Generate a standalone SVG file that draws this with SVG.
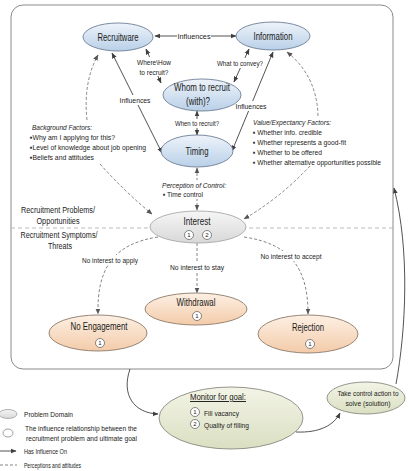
<svg xmlns="http://www.w3.org/2000/svg" width="409" height="471" viewBox="0 0 409 471">
<defs>
<linearGradient id="gBlue" x1="0" y1="0" x2="0" y2="1"><stop offset="0" stop-color="#eef3fa"/><stop offset="1" stop-color="#b9d0e8"/></linearGradient>
<linearGradient id="gGray" x1="0" y1="0" x2="0" y2="1"><stop offset="0" stop-color="#f6f6f6"/><stop offset="1" stop-color="#d8d8d8"/></linearGradient>
<linearGradient id="gPeach" x1="0" y1="0" x2="0" y2="1"><stop offset="0" stop-color="#fdf0e4"/><stop offset="1" stop-color="#f3cba9"/></linearGradient>
<linearGradient id="gGreen" x1="0" y1="0" x2="0" y2="1"><stop offset="0" stop-color="#f3f4e6"/><stop offset="1" stop-color="#dadfc2"/></linearGradient>
<marker id="ah" viewBox="0 0 10 10" refX="9" refY="5" markerWidth="6" markerHeight="6" markerUnits="userSpaceOnUse" orient="auto-start-reverse"><path d="M0,1 L10,5 L0,9 Z" fill="#404040"/></marker>
<marker id="ahd" viewBox="0 0 10 10" refX="9" refY="5" markerWidth="6" markerHeight="6" markerUnits="userSpaceOnUse" orient="auto-start-reverse"><path d="M0,1 L10,5 L0,9 Z" fill="#555"/></marker>
<style>
text{font-family:"Liberation Sans",Arial,sans-serif;fill:#1a1a1a}
.n{font-size:10px;text-anchor:middle}
.l{font-size:8px}
.lc{font-size:8px;text-anchor:middle}
.it{font-style:italic}
.sol{fill:none;stroke:#404040;stroke-width:0.9}
.das{fill:none;stroke:#666;stroke-width:0.8;stroke-dasharray:3,2}
.blue{fill:url(#gBlue);stroke:#6d7f95;stroke-width:0.9}
.gray{fill:url(#gGray);stroke:#a8a8a8;stroke-width:0.9}
.peach{fill:url(#gPeach);stroke:#8c7a6a;stroke-width:0.9}
.green{fill:url(#gGreen);stroke:#8a8a80;stroke-width:0.9}
.num{fill:#fff;stroke:#555;stroke-width:0.7}
.nt{font-size:6px;text-anchor:middle}
.bg{fill:#fff}
</style>
</defs>

<rect x="11" y="5" width="382" height="364" rx="12" fill="#fff" stroke="#8a8a8a" stroke-width="1"/>
<line x1="11" y1="228" x2="393" y2="228" stroke="#aaa" stroke-width="0.8" stroke-dasharray="4,3"/>

<g id="connectors">
<line class="sol" x1="155" y1="36" x2="236" y2="36" marker-start="url(#ah)" marker-end="url(#ah)"/>
<line class="sol" x1="146" y1="49" x2="161" y2="83" marker-start="url(#ah)" marker-end="url(#ah)"/>
<line class="sol" x1="249" y1="49" x2="234" y2="82" marker-start="url(#ah)" marker-end="url(#ah)"/>
<line class="sol" x1="112" y1="53" x2="162" y2="153" marker-start="url(#ah)" marker-end="url(#ah)"/>
<line class="sol" x1="232" y1="151" x2="273" y2="52" marker-start="url(#ah)" marker-end="url(#ah)"/>
<line class="sol" x1="197" y1="111" x2="197" y2="135" marker-start="url(#ah)" marker-end="url(#ah)"/>
<line class="das" x1="197" y1="168" x2="197" y2="210" marker-start="url(#ahd)" marker-end="url(#ahd)"/>
<path class="das" d="M87,120 Q83,82 98,55" marker-end="url(#ahd)"/>
<path class="das" d="M100,164 Q125,192 152,214" marker-end="url(#ahd)"/>
<path class="das" d="M318,116 Q317,76 287,52" marker-end="url(#ahd)"/>
<path class="das" d="M310,166 Q280,198 244,219" marker-end="url(#ahd)"/>
<path class="das" d="M158,237 C112,244 97,270 98,314" marker-end="url(#ahd)"/>
<line class="das" x1="197" y1="243" x2="197" y2="293" marker-end="url(#ahd)"/>
<path class="das" d="M244,237 C292,244 308,270 308,314" marker-end="url(#ahd)"/>
<path class="sol" d="M130,369 C121,395 134,413 158,414" marker-end="url(#ah)"/>
<path class="sol" d="M296,432 C320,433 334,425 340,413" marker-end="url(#ah)"/>
<path class="sol" d="M396,384 C406,330 410,250 394,188" marker-end="url(#ah)"/>
</g>

<g id="labels">
<rect class="bg" x="177" y="31" width="34" height="10"/>
<text class="lc" x="194" y="39" textLength="33" lengthAdjust="spacingAndGlyphs">Influences</text>
<rect class="bg" x="137" y="57" width="34" height="19"/>
<text class="lc" x="154" y="65" textLength="34" lengthAdjust="spacingAndGlyphs">Where\How</text>
<text class="lc" x="154" y="75" textLength="29" lengthAdjust="spacingAndGlyphs">to recruit?</text>
<rect class="bg" x="216" y="58" width="48" height="10"/>
<text class="lc" x="240" y="66" textLength="46" lengthAdjust="spacingAndGlyphs">What to convey?</text>
<rect class="bg" x="119" y="95" width="32" height="10"/>
<text class="lc" x="135" y="103" textLength="31" lengthAdjust="spacingAndGlyphs">Influences</text>
<rect class="bg" x="235" y="101" width="32" height="10"/>
<text class="lc" x="251" y="109" textLength="31" lengthAdjust="spacingAndGlyphs">Influences</text>
<rect class="bg" x="174" y="119" width="46" height="9"/>
<text x="197" y="126" style="font-size:7px;text-anchor:middle" textLength="44" lengthAdjust="spacingAndGlyphs">When to recruit?</text>
<rect class="bg" x="161" y="180" width="66" height="19"/>
<text class="l it" x="162" y="188" textLength="64" lengthAdjust="spacingAndGlyphs">Perception of Control:</text>
<text class="l" x="163" y="197" textLength="40" lengthAdjust="spacingAndGlyphs">▪ Time control</text>
<text class="l it" x="32" y="130" textLength="60" lengthAdjust="spacingAndGlyphs">Background Factors:</text>
<text class="l" x="30" y="140" textLength="85" lengthAdjust="spacingAndGlyphs">▪Why am I applying for this?</text>
<text class="l" x="30" y="150" textLength="116" lengthAdjust="spacingAndGlyphs">▪Level of knowledge about job opening</text>
<text class="l" x="30" y="160" textLength="64" lengthAdjust="spacingAndGlyphs">▪Beliefs and attitudes</text>
<text class="l it" x="253" y="125" textLength="78" lengthAdjust="spacingAndGlyphs">Value/Expectancy Factors:</text>
<text class="l" x="253" y="135" textLength="69" lengthAdjust="spacingAndGlyphs">▪ Whether info. credible</text>
<text class="l" x="253" y="145" textLength="93" lengthAdjust="spacingAndGlyphs">▪ Whether represents a good-fit</text>
<text class="l" x="253" y="155" textLength="69" lengthAdjust="spacingAndGlyphs">▪ Whether to be offered</text>
<text class="l" x="253" y="165" textLength="128" lengthAdjust="spacingAndGlyphs">▪ Whether alternative opportunities possible</text>
<text class="lc" x="58" y="213" style="font-size:8.5px" textLength="74" lengthAdjust="spacingAndGlyphs">Recruitment Problems/</text>
<text class="lc" x="58" y="224" style="font-size:8.5px" textLength="43" lengthAdjust="spacingAndGlyphs">Opportunities</text>
<text class="lc" x="59" y="238" style="font-size:8.5px" textLength="77" lengthAdjust="spacingAndGlyphs">Recruitment Symptoms/</text>
<text class="lc" x="60" y="249" style="font-size:8.5px" textLength="24" lengthAdjust="spacingAndGlyphs">Threats</text>
<rect class="bg" x="81" y="255" width="58" height="10"/>
<text class="lc" x="110" y="263" textLength="56" lengthAdjust="spacingAndGlyphs">No interest to apply</text>
<rect class="bg" x="169" y="262" width="56" height="10"/>
<text class="lc" x="197" y="270" textLength="54" lengthAdjust="spacingAndGlyphs">No interest to stay</text>
<rect class="bg" x="260" y="251" width="63" height="10"/>
<text class="lc" x="291" y="259" textLength="61" lengthAdjust="spacingAndGlyphs">No interest to accept</text>
</g>

<g id="recruitware">
<ellipse class="blue" cx="118" cy="37" rx="35" ry="14"/>
<text class="n" x="118" y="41" textLength="41" lengthAdjust="spacingAndGlyphs">Recruitware</text>
</g>
<g id="information">
<ellipse class="blue" cx="273" cy="36" rx="37" ry="14"/>
<text class="n" x="273" y="40" textLength="39" lengthAdjust="spacingAndGlyphs">Information</text>
</g>
<g id="whom">
<ellipse class="blue" cx="202" cy="95" rx="39" ry="16"/>
<text class="n" x="202" y="91" textLength="56" lengthAdjust="spacingAndGlyphs">Whom to recruit</text>
<text class="n" x="198" y="105" textLength="24" lengthAdjust="spacingAndGlyphs">(with)?</text>
</g>
<g id="timing">
<ellipse class="blue" cx="197" cy="151" rx="36" ry="16"/>
<text class="n" x="197" y="155" textLength="23" lengthAdjust="spacingAndGlyphs">Timing</text>
</g>
<g id="interest">
<ellipse class="gray" cx="198" cy="227" rx="48" ry="16"/>
<text class="n" x="197" y="225" textLength="27" lengthAdjust="spacingAndGlyphs">Interest</text>
<circle class="num" cx="189" cy="235" r="4.5"/><text class="nt" x="189" y="237">1</text>
<circle class="num" cx="207" cy="235" r="4.5"/><text class="nt" x="207" y="237">2</text>
</g>
<g id="withdrawal">
<ellipse class="peach" cx="196" cy="309" rx="51" ry="16"/>
<text class="n" x="196" y="306" textLength="39" lengthAdjust="spacingAndGlyphs">Withdrawal</text>
<circle class="num" cx="197" cy="316" r="4.5"/><text class="nt" x="197" y="318">1</text>
</g>
<g id="noengagement">
<ellipse class="peach" cx="98" cy="333" rx="49" ry="18"/>
<text class="n" x="99" y="330" textLength="57" lengthAdjust="spacingAndGlyphs">No Engagement</text>
<circle class="num" cx="100" cy="343" r="4.5"/><text class="nt" x="100" y="345">1</text>
</g>
<g id="rejection">
<ellipse class="peach" cx="308" cy="334" rx="50" ry="19"/>
<text class="n" x="308" y="331" textLength="32" lengthAdjust="spacingAndGlyphs">Rejection</text>
<circle class="num" cx="310" cy="344" r="4.5"/><text class="nt" x="310" y="346">1</text>
</g>
<g id="monitor">
<ellipse class="green" cx="231" cy="418" rx="72" ry="31"/>
<text x="190" y="400" style="font-size:9.5px;text-decoration:underline" textLength="56" lengthAdjust="spacingAndGlyphs">Monitor for goal:</text>
<circle class="num" cx="195" cy="412" r="4.5"/><text class="nt" x="195" y="414">1</text>
<text class="l" x="204" y="416" textLength="35" lengthAdjust="spacingAndGlyphs">Fill vacancy</text>
<circle class="num" cx="195" cy="424" r="4.5"/><text class="nt" x="195" y="426">2</text>
<text class="l" x="204" y="428" textLength="45" lengthAdjust="spacingAndGlyphs">Quality of filling</text>
</g>
<g id="takecontrol">
<ellipse class="green" cx="366" cy="398" rx="39" ry="16"/>
<text x="368" y="396" style="font-size:7.5px;text-anchor:middle" textLength="61" lengthAdjust="spacingAndGlyphs">Take control action to</text>
<text x="368" y="406" style="font-size:7.5px;text-anchor:middle" textLength="45" lengthAdjust="spacingAndGlyphs">solve (solution)</text>
</g>

<g id="legend">
<ellipse class="gray" cx="8" cy="414" rx="9" ry="4.5"/>
<text class="l" x="24" y="417" textLength="49" lengthAdjust="spacingAndGlyphs">Problem Domain</text>
<ellipse cx="8" cy="433" rx="5" ry="4" fill="#fff" stroke="#888" stroke-width="0.8"/>
<text class="l" x="25" y="431" textLength="112" lengthAdjust="spacingAndGlyphs">The  influence relationship between the</text>
<text class="l" x="26" y="441" textLength="111" lengthAdjust="spacingAndGlyphs">recruitment problem and ultimate goal</text>
<line class="sol" x1="0" y1="451" x2="16" y2="451" marker-end="url(#ah)"/>
<text class="l" x="24" y="454" textLength="43" lengthAdjust="spacingAndGlyphs">Has Influence On</text>
<line class="das" x1="0" y1="465" x2="17" y2="465"/>
<text class="l" x="24" y="468" textLength="57" lengthAdjust="spacingAndGlyphs">Perceptions and attitudes</text>
</g>
</svg>
